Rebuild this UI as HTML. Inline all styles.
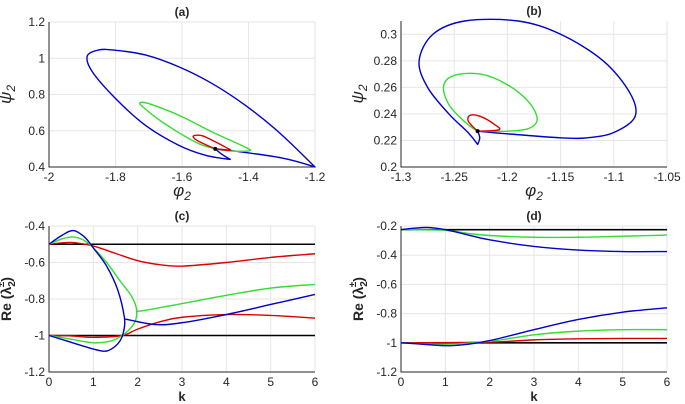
<!DOCTYPE html>
<html><head><meta charset="utf-8"><style>
html,body{margin:0;padding:0;background:#fff;width:685px;height:404px;overflow:hidden}
svg text{font-family:"Liberation Sans",sans-serif;fill:#262626}
</style></head><body>
<svg id="fig" width="685" height="404" viewBox="0 0 685 404"></svg>
<script>
// ---- data ---- (third element 1 = sharp corner)
const aXTicks=[-2,-1.8,-1.6,-1.4,-1.2], aYTicks=[0.4,0.6,0.8,1,1.2];
const aBlue=[[-1.5,0.5,1],[-1.45,0.49],[-1.3,0.45],[-1.2,0.4,1],[-1.31,0.594],[-1.41,0.741],[-1.51,0.861],[-1.61,0.953],[-1.71,1.018],[-1.8,1.044],[-1.85,1.046],[-1.885,1.012],[-1.87,0.926],[-1.8,0.778],[-1.71,0.63],[-1.61,0.52],[-1.53,0.465],[-1.455,0.442,1],[-1.48,0.47],[-1.5,0.5,1]];
const aGreen=[[-1.5,0.5,1],[-1.45,0.488],[-1.398,0.49],[-1.41,0.51],[-1.51,0.594],[-1.61,0.686],[-1.7,0.75],[-1.725,0.755],[-1.72,0.735],[-1.66,0.649],[-1.56,0.538],[-1.5,0.5,1]];
const aRed=[[-1.5,0.5,1],[-1.455,0.492],[-1.47,0.51],[-1.51,0.548],[-1.54,0.573],[-1.565,0.572],[-1.56,0.553],[-1.53,0.524],[-1.5,0.5,1]];
const bXTicks=[-1.3,-1.25,-1.2,-1.15,-1.1,-1.05], bYTicks=[0.2,0.22,0.24,0.26,0.28,0.3];
const bBlue=[[-1.228,0.227,1],[-1.2,0.225],[-1.15,0.222],[-1.125,0.222],[-1.1,0.226],[-1.08,0.238],[-1.085,0.256],[-1.11,0.28],[-1.15,0.3],[-1.19,0.31],[-1.24,0.31],[-1.27,0.3],[-1.283,0.28],[-1.275,0.26],[-1.255,0.24],[-1.237,0.226],[-1.228,0.217,1],[-1.226,0.222],[-1.228,0.227,1]];
const bGreen=[[-1.228,0.227,1],[-1.2,0.227],[-1.18,0.229],[-1.172,0.236],[-1.18,0.249],[-1.2,0.262],[-1.225,0.27],[-1.25,0.269],[-1.26,0.261],[-1.255,0.247],[-1.24,0.234],[-1.228,0.227,1]];
const bRed=[[-1.228,0.227,1],[-1.208,0.228],[-1.212,0.232],[-1.225,0.238],[-1.235,0.239],[-1.237,0.235],[-1.232,0.23],[-1.228,0.227,1]];
const kTicks=[0,1,2,3,4,5,6];
const cYTicks=[-1.2,-1,-0.8,-0.6,-0.4];
const cBlack=[-0.5,-1];
const cRedU=[[0,-0.5],[0.5,-0.49],[1,-0.51],[1.5,-0.55],[2,-0.59],[2.5,-0.612],[3,-0.62],[4,-0.6],[5,-0.572],[6,-0.552]];
const cRedL=[[0,-1],[0.5,-1.002],[1,-1.01],[1.65,-1.0],[2,-0.965],[2.5,-0.925],[3,-0.9],[4,-0.885],[5,-0.89],[6,-0.905]];
const cGreenLoop=[[0,-0.5,1],[0.3,-0.47],[0.55,-0.46],[0.8,-0.48],[1.0,-0.52],[1.3,-0.6],[1.6,-0.7],[1.85,-0.78],[1.97,-0.85],[1.95,-0.92],[1.8,-0.97],[1.65,-1.0],[1.4,-1.03],[1.0,-1.04],[0.5,-1.02],[0,-1,1]];
const cGreenTail=[[1.97,-0.86],[2.1,-0.865],[3,-0.825],[4,-0.78],[5,-0.74],[6,-0.72]];
const cBlueLoop=[[0,-0.5,1],[0.3,-0.45],[0.55,-0.425],[0.8,-0.46],[1.0,-0.52],[1.3,-0.62],[1.55,-0.75],[1.7,-0.9],[1.69,-0.97],[1.6,-1.03],[1.4,-1.075],[1.2,-1.085],[0.8,-1.06],[0.4,-1.03],[0,-1,1]];
const cBlueTail=[[1.72,-0.91],[2.4,-0.94],[3,-0.93],[4,-0.885],[5,-0.83],[6,-0.775]];
const dYTicks=[-1.2,-1,-0.8,-0.6,-0.4,-0.2];
const dBlack=[-0.225,-1];
const dBlueU=[[0,-0.225],[0.3,-0.215],[0.6,-0.21],[1,-0.225],[1.5,-0.26],[2,-0.295],[3,-0.34],[4,-0.365],[5,-0.375],[6,-0.375]];
const dGreenU=[[0,-0.225],[1,-0.23],[1.5,-0.25],[2,-0.265],[3,-0.277],[4,-0.277],[5,-0.27],[6,-0.262]];
const dBlueL=[[0,-1],[0.5,-1.01],[1,-1.02],[1.5,-1.01],[2,-0.985],[3,-0.91],[4,-0.84],[5,-0.79],[6,-0.76]];
const dGreenL=[[0,-1],[1,-1.01],[2,-0.99],[3,-0.945],[4,-0.92],[5,-0.91],[6,-0.91]];
const dRedL=[[0,-1],[2,-0.995],[3,-0.98],[4,-0.973],[5,-0.97],[6,-0.97]];

const NS='http://www.w3.org/2000/svg', svg=document.getElementById('fig');
function mk(tag,attrs,parent){const e=document.createElementNS(NS,tag);for(const k in attrs)e.setAttribute(k,attrs[k]);(parent||svg).appendChild(e);return e;}
function fmt(v){return (Math.round(v*1000)/1000).toString();}
function panel(o){
  const g=mk('g',{});
  
  
  const sx=v=>o.L+(v-o.x0)/(o.x1-o.x0)*(o.R-o.L);
  const sy=v=>o.B-(v-o.y0)/(o.y1-o.y0)*(o.B-o.T);
  o.xt.forEach(v=>{const l=mk('line',{x1:sx(v),x2:sx(v),y1:o.T,y2:o.B,stroke:'#e6e6e6','stroke-width':1},g);
    
    const t=mk('text',{x:sx(v),y:o.B+14,'text-anchor':'middle','font-size':12},g);t.textContent=fmt(v);
    });
  o.yt.forEach(v=>{const l=mk('line',{x1:o.L,x2:o.R,y1:sy(v),y2:sy(v),stroke:'#e6e6e6','stroke-width':1},g);
    
    const t=mk('text',{x:o.L-4,y:sy(v)+4,'text-anchor':'end','font-size':12},g);t.textContent=fmt(v);
    });
  const ax=mk('path',{d:`M${o.L},${o.T}V${o.B}H${o.R}`,fill:'none',stroke:'#262626','stroke-width':1},g);
  
  const line=(pts,col,nm,w)=>{
    const P=pts.map(p=>[sx(p[0]),sy(p[1]),p[2]||0]);let d=`M${P[0][0]},${P[0][1]}`;
    const tan=i=>{if(P[i][2])return[0,0];const a=P[Math.max(i-1,0)],b=P[Math.min(i+1,P.length-1)];return[(b[0]-a[0])/6,(b[1]-a[1])/6];};
    for(let i=0;i<P.length-1;i++){const t1=tan(i),t2=tan(i+1),p1=P[i],p2=P[i+1];
      d+=`C${p1[0]+t1[0]},${p1[1]+t1[1]} ${p2[0]-t2[0]},${p2[1]-t2[1]} ${p2[0]},${p2[1]}`;}
    const e=mk('path',{d,fill:'none',stroke:col,'stroke-width':w||1.4,'stroke-linejoin':'round'},g);
    };
  (o.hl||[]).forEach(v=>line([[o.x0,v],[o.x1,v]],'#000','reference-line',1.6));
  o.series.forEach(s=>line(s[0],s[1],s[2]));
  if(o.dot){const c=mk('circle',{cx:sx(o.dot[0]),cy:sy(o.dot[1]),r:2,fill:'#000'},g);
    }
  const t=mk('text',{x:(o.L+o.R)/2,y:o.T-6,'text-anchor':'middle','font-size':12,'font-weight':'bold'},g);t.textContent=o.title;
  
  const xl=mk('text',{x:(o.L+o.R)/2,y:o.B+29,'text-anchor':'middle','font-size':o.xb?13:17,'font-weight':o.xb?'bold':'normal','font-style':o.xb?'normal':'italic','font-family':o.xb?'Liberation Sans':'Liberation Serif'},g);
  xl.innerHTML=o.xlab;
  const yx=o.L-38,yy=(o.T+o.B)/2;
  const yl=mk('text',{x:yx,y:yy,transform:`rotate(-90 ${yx} ${yy})`,'text-anchor':'middle','font-size':o.xb?14:17,'font-weight':o.xb?'bold':'normal','font-style':o.xb?'normal':'italic','font-family':o.xb?'Liberation Sans':'Liberation Serif'},g);
  yl.innerHTML=o.ylab;
}
panel({name:'panel-a',title:'(a)',L:49,R:315,T:22,B:167,x0:-2,x1:-1.2,y0:0.4,y1:1.2,xt:aXTicks,yt:aYTicks,
  series:[[aBlue,'#0000cc','blue-orbit'],[aGreen,'#33dd33','green-orbit'],[aRed,'#dd0000','red-orbit']],dot:[-1.5,0.5],
  xlab:'φ<tspan font-size="12" dy="4">2</tspan>',ylab:'ψ<tspan font-size="12" dy="4">2</tspan>'});
panel({name:'panel-b',title:'(b)',L:401,R:667,T:21,B:167,x0:-1.3,x1:-1.05,y0:0.2,y1:0.31,xt:bXTicks,yt:bYTicks,
  series:[[bBlue,'#0000cc','blue-orbit'],[bGreen,'#33dd33','green-orbit'],[bRed,'#dd0000','red-orbit']],dot:[-1.228,0.227],
  xlab:'φ<tspan font-size="12" dy="4">2</tspan>',ylab:'ψ<tspan font-size="12" dy="4">2</tspan>'});
panel({name:'panel-c',title:'(c)',L:49,R:315,T:226,B:372,x0:0,x1:6,y0:-1.2,y1:-0.4,xt:kTicks,yt:cYTicks,hl:cBlack,xb:true,
  series:[[cRedU,'#dd0000','red-upper'],[cRedL,'#dd0000','red-lower'],[cGreenLoop,'#33dd33','green-loop'],[cGreenTail,'#33dd33','green-tail'],[cBlueLoop,'#0000cc','blue-loop'],[cBlueTail,'#0000cc','blue-tail']],
  xlab:'k',ylab:'Re (λ<tspan font-size="10" dy="4">2</tspan><tspan font-size="10" dy="-11" dx="-6">±</tspan><tspan dy="7">)</tspan>'});
panel({name:'panel-d',title:'(d)',L:401,R:667,T:226,B:372,x0:0,x1:6,y0:-1.2,y1:-0.2,xt:kTicks,yt:dYTicks,hl:dBlack,xb:true,
  series:[[dRedL,'#dd0000','red-lower'],[dGreenU,'#33dd33','green-upper'],[dGreenL,'#33dd33','green-lower'],[dBlueU,'#0000cc','blue-upper'],[dBlueL,'#0000cc','blue-lower']],
  xlab:'k',ylab:'Re (λ<tspan font-size="10" dy="4">2</tspan><tspan font-size="10" dy="-11" dx="-6">±</tspan><tspan dy="7">)</tspan>'});
</script>
</body></html>
